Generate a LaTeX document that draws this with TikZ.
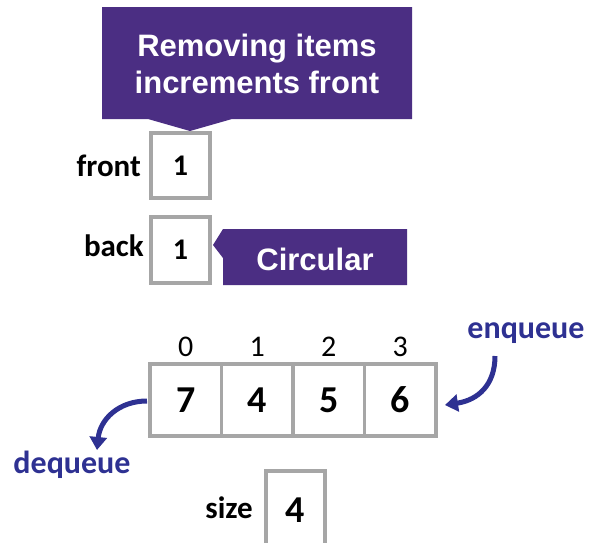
\documentclass[tikz,border=0pt]{standalone}
\usepackage{fontspec}
\setmainfont{Carlito}
\newfontfamily\calloutfont{Liberation Sans}
\usetikzlibrary{arrows.meta}
\definecolor{uwpurple}{RGB}{75,46,131}
\definecolor{boxgray}{RGB}{166,166,166}
\definecolor{opblue}{RGB}{46,49,146}
\begin{document}
\begin{tikzpicture}[x=1pt,y=-1pt,
  cellbox/.style={draw=boxgray, line width=3.5pt, inner sep=0pt, fill=white,
    font=\fontsize{38}{40}\selectfont\bfseries},
  smallbox/.style={cellbox, minimum width=59pt, font=\fontsize{30}{32}\selectfont\bfseries},
  varlabel/.style={anchor=east, inner sep=0pt, font=\fontsize{31}{33}\selectfont\bfseries},
  idxlabel/.style={inner sep=0pt, font=\fontsize{30}{32}\selectfont},
  callouttext/.style={text=white, align=center, inner sep=0pt,
    font=\calloutfont\fontsize{31}{37}\selectfont\bfseries},
  oplabel/.style={text=opblue, inner sep=0pt, font=\fontsize{32}{34}\selectfont\bfseries},
  oparrow/.style={draw=opblue, line width=5pt, -{Triangle[length=13pt,width=17pt]}}
]
\useasboundingbox (0,0) rectangle (594,542);

% callout: removing items
\fill[uwpurple] (102,7) -- (412,7) -- (412,119) -- (232,119) -- (190,131)
  -- (148,119) -- (102,119) -- cycle;
\node[callouttext] (remove) at (257,64) {Removing items\\increments front};

% front / back
\node[smallbox, minimum height=65pt] (front) at (180.5,165.5) {1};
\node[varlabel] (frontlbl) at (141,166) {front};
\node[smallbox, minimum height=66pt] (back) at (180.5,250) {1};
\node[varlabel] (backlbl) at (144,246) {back};

% callout: circular
\fill[uwpurple] (223,229) -- (407,229) -- (407,285) -- (223,285) -- (223,258)
  -- (213,245) -- cycle;
\node[callouttext] (circ) at (315,259) {Circular};

% array
\foreach \i/\v/\x in {0/7/185.75,1/4/257.25,2/5/328.75,3/6/400.25}{
  \node[cellbox, minimum width=71.5pt, minimum height=72pt] (c\i) at (\x,400) {\v};
  \node[idxlabel] (i\i) at (\x,347) {\i};
}

% enqueue / dequeue
\node[oplabel] (enq) at (526,333) {enqueue};
\node[oplabel] (deq) at (72,465) {dequeue};
\coordinate (enqstart) at (495,356);
\coordinate (enqend) at (445,405);
\coordinate (deqstart) at (147,401);
\coordinate (deqend) at (97,450);
\draw[oparrow] (enqstart) .. controls (495,385) and (478,400) .. (enqend);
\draw[oparrow] (deqstart) .. controls (118,401) and (100,420) .. (deqend);

% size
\node[smallbox, minimum height=78pt, font=\fontsize{38}{40}\selectfont\bfseries] (size) at (295.5,510) {4};
\node[varlabel] (sizelbl) at (253,508) {size};
\end{tikzpicture}
\end{document}
